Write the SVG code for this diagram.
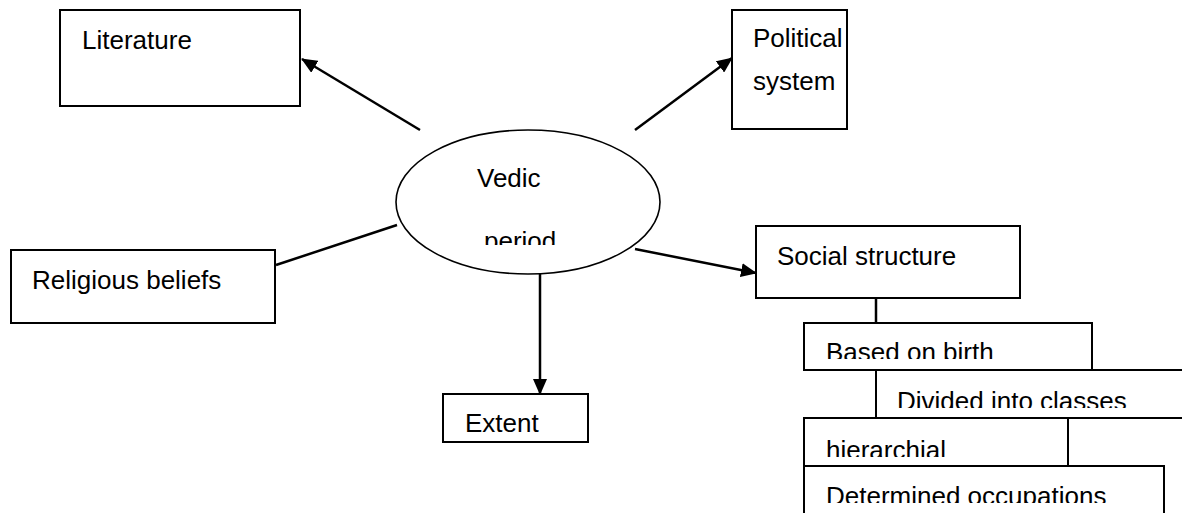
<svg xmlns="http://www.w3.org/2000/svg" width="1182" height="513" viewBox="0 0 1182 513">
<style>
.box{fill:#fff;stroke:#000;stroke-width:2}
.ell{fill:#fff;stroke:#000;stroke-width:1.6}
.ln{fill:none;stroke:#000;stroke-width:2.5}
.t{font-family:"Liberation Sans",Arial,sans-serif;font-size:26px;fill:#000}
</style>
<defs>
<marker id="ah2" markerWidth="16" markerHeight="14" refX="15" refY="7" orient="auto" markerUnits="userSpaceOnUse" viewBox="0 0 16 14">
<path d="M0,0 L16,7 L0,14 z" fill="#000"/>
</marker>
<clipPath id="cp-vedic"><rect x="396" y="130" width="264" height="115"/></clipPath>
<clipPath id="cp-based"><rect x="804" y="323" width="288" height="36"/></clipPath>
<clipPath id="cp-div"><rect x="876" y="370" width="306" height="38"/></clipPath>
<clipPath id="cp-hier"><rect x="804" y="418" width="264" height="39"/></clipPath>
<clipPath id="cp-det"><rect x="804" y="466" width="360" height="37"/></clipPath>
</defs>
<rect width="1182" height="513" fill="#fff"/>
<g id="connectors">
<line class="ln" x1="420" y1="130" x2="302" y2="59" marker-end="url(#ah2)"/>
<line class="ln" x1="635" y1="130" x2="732" y2="58" marker-end="url(#ah2)"/>
<line class="ln" x1="397" y1="225" x2="276" y2="265"/>
<line class="ln" x1="635" y1="249" x2="756" y2="273" marker-end="url(#ah2)"/>
<line class="ln" x1="540" y1="274" x2="540" y2="394" marker-end="url(#ah2)"/>
<line class="ln" x1="876" y1="298" x2="876" y2="323"/>
</g>
<g id="literature">
<rect class="box" x="60" y="10" width="240" height="96"/>
<text class="t" x="82" y="49">Literature</text>
</g>
<g id="political">
<rect class="box" x="732" y="10" width="115" height="119"/>
<text class="t" x="753" y="47">Political</text>
<text class="t" x="753" y="90">system</text>
</g>
<g id="vedic">
<ellipse class="ell" cx="528" cy="202" rx="132" ry="72"/>
<text class="t" x="477" y="187">Vedic</text>
<text class="t" x="484" y="250" clip-path="url(#cp-vedic)">period</text>
</g>
<g id="religious">
<rect class="box" x="11" y="250" width="264" height="73"/>
<text class="t" x="32" y="289">Religious beliefs</text>
</g>
<g id="extent">
<rect class="box" x="443" y="394" width="145" height="48"/>
<text class="t" x="465" y="432">Extent</text>
</g>
<g id="social">
<rect class="box" x="756" y="226" width="264" height="72"/>
<text class="t" x="777" y="265">Social structure</text>
</g>
<g id="divided">
<rect class="box" x="876" y="370" width="320" height="48"/>
<text class="t" x="897" y="410" clip-path="url(#cp-div)">Divided into classes</text>
</g>
<g id="based">
<rect class="box" x="804" y="323" width="288" height="47"/>
<text class="t" x="826" y="361" clip-path="url(#cp-based)">Based on birth</text>
</g>
<g id="hierarchial">
<rect class="box" x="804" y="418" width="264" height="48"/>
<text class="t" x="826" y="459" clip-path="url(#cp-hier)">hierarchial</text>
</g>
<g id="determined">
<rect class="box" x="804" y="466" width="360" height="60"/>
<text class="t" x="826" y="505" clip-path="url(#cp-det)">Determined occupations</text>
</g>
</svg>
